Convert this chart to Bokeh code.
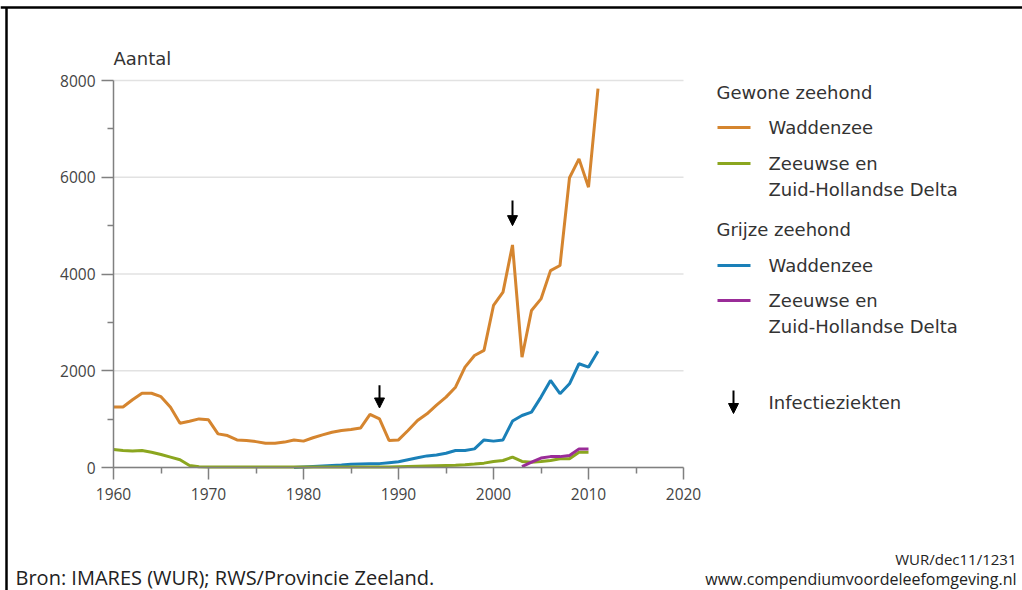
from bokeh.plotting import figure
from bokeh.models import Range1d, Arrow, NormalHead, LinearAxis, FixedTicker
from bokeh.core.properties import value
from bokeh.embed import file_html
from bokeh.resources import INLINE

# ---- data ----
years_gw = list(range(1960, 2012))
gewone_wadden = [1250, 1250, 1400, 1535, 1535, 1465, 1245, 915, 955, 1005,
                 985, 695, 660, 570, 560, 535, 500, 500, 525, 570,
                 545, 615, 675, 730, 765, 785, 815, 1100, 1005, 560,
                 570, 765, 970, 1110, 1290, 1455, 1660, 2075, 2315, 2420,
                 3350, 3625, 4600, 2280, 3245, 3485, 4070, 4175, 5990, 6380,
                 5795, 7830]

years_gd = list(range(1960, 2011))
gewone_delta = [370, 350, 340, 350, 315, 270, 215, 160, 40, 15,
                10, 10, 10, 10, 10, 10, 10, 10, 10, 10,
                10, 10, 10, 10, 10, 10, 10, 10, 10, 10,
                15, 20, 25, 30, 35, 40, 45, 55, 70, 90,
                125, 145, 215, 125, 110, 125, 145, 180, 180, 315,
                315]

years_gr = list(range(1979, 2012))
grijze_wadden = [0, 10, 20, 30, 40, 50, 65, 70, 75, 80,
                 100, 120, 160, 200, 240, 260, 295, 350, 350, 385,
                 570, 545, 570, 960, 1075, 1145, 1455, 1800, 1525, 1730,
                 2145, 2075, 2405]

years_gdl = list(range(2003, 2011))
grijze_delta = [20, 110, 195, 225, 225, 250, 385, 385]

infection_years = [1988, 2002]
arrow_tail = [1700, 5520]
arrow_tip = [1230, 5000]

x_ticks = [1960, 1970, 1980, 1990, 2000, 2010, 2020]
x_minor = [1965, 1975, 1985, 1995, 2005, 2015]
y_ticks = [0, 2000, 4000, 6000, 8000]
y_minor = [1000, 3000, 5000, 7000]

C_ORANGE = "#d5852f"
C_GREEN = "#8ba61f"
C_BLUE = "#1a80b8"
C_PURPLE = "#9a2c98"
TXT = "#333333"
FONT = "Open Sans"
LFONT = "DejaVu Sans"

# ---- layout (page pixels) ----
W, H = 1022, 590
FL, FR, FT, FB = 113, 683, 80, 467          # plot area edges
X0, X1, Y0, Y1 = x_ticks[0], x_ticks[-1], y_ticks[0], y_ticks[-1]
PX = (FR - FL) / (X1 - X0)                   # px per year
PY = (FB - FT) / (Y1 - Y0)                   # px per seal
XS = X0 - FL / PX
XE = XS + W / PX
YE = Y1 + FT / PY
YS = YE - H / PY

def dx(px):
    return XS + px / PX

def dy(py):
    return YE - py / PY

p = figure(width=W, height=H, output_backend="svg", toolbar_location=None,
           x_range=Range1d(XS, XE), y_range=Range1d(YS, YE),
           x_axis_type=None, y_axis_type=None,
           min_border=0, min_border_left=0, min_border_right=0,
           min_border_top=0, min_border_bottom=0)
p.outline_line_color = None
p.background_fill_color = "white"
p.border_fill_color = "white"
p.grid.visible = False

xaxis = LinearAxis(fixed_location=Y0, bounds=(X0, X1),
                   ticker=FixedTicker(ticks=x_ticks, minor_ticks=x_minor))
yaxis = LinearAxis(fixed_location=X0, bounds=(Y0, Y1),
                   ticker=FixedTicker(ticks=y_ticks, minor_ticks=y_minor))
for ax in (xaxis, yaxis):
    ax.axis_line_color = "#808080"
    ax.axis_line_width = 1.5
    ax.major_tick_line_color = "#808080"
    ax.major_tick_line_width = 1.5
    ax.minor_tick_line_color = "#808080"
    ax.minor_tick_line_width = 1.5
    ax.major_tick_in = 0
    ax.minor_tick_in = 0
    ax.major_tick_out = 12
    ax.minor_tick_out = 6
    ax.major_label_text_font = FONT
    ax.major_label_text_font_size = "15.5px"
    ax.major_label_text_color = "#444444"
xaxis.major_label_standoff = 8
yaxis.major_label_standoff = 6

# horizontal grid lines at the major y ticks
p.segment(x0=[X0] * len(y_ticks), x1=[X1] * len(y_ticks), y0=y_ticks, y1=y_ticks,
          line_color="#e2e2e2", line_width=1.5)

p.add_layout(xaxis, "below")
p.add_layout(yaxis, "left")

LW = 3
p.line(years_gr, grijze_wadden, line_color=C_BLUE, line_width=LW)
p.line(years_gd, gewone_delta, line_color=C_GREEN, line_width=LW)
p.line(years_gdl, grijze_delta, line_color=C_PURPLE, line_width=LW)
p.line(years_gw, gewone_wadden, line_color=C_ORANGE, line_width=LW)

def head():
    return NormalHead(size=10, fill_color="black", line_color="black", line_width=1)

for yr, t0, t1 in zip(infection_years, arrow_tail, arrow_tip):
    p.add_layout(Arrow(x_start=yr, y_start=t0, x_end=yr, y_end=t1,
                       line_color="black", line_width=2, end=head()))

def lab(x, y, text, size="18px", color=TXT, align="left", font=LFONT):
    p.text(x=[dx(x)], y=[dy(y)], text=[text], text_font=value(font),
           text_font_size=size, text_color=color, text_align=align,
           text_baseline="middle")

def seg(x0, y0, x1, y1, color, width):
    p.segment(x0=[dx(x0)], y0=[dy(y0)], x1=[dx(x1)], y1=[dy(y1)],
              line_color=color, line_width=width)

lab(113, 58, "Aantal", "18px")
lab(716, 92, "Gewone zeehond")
seg(717, 127, 750, 127, C_ORANGE, 3)
lab(768, 127, "Waddenzee")
seg(717, 163, 750, 163, C_GREEN, 3)
lab(768, 163, "Zeeuwse en")
lab(768, 189, "Zuid-Hollandse Delta")
lab(716, 229, "Grijze zeehond")
seg(717, 265, 750, 265, C_BLUE, 3)
lab(768, 265, "Waddenzee")
seg(717, 300, 750, 300, C_PURPLE, 3)
lab(768, 300, "Zeeuwse en")
lab(768, 326, "Zuid-Hollandse Delta")
p.add_layout(Arrow(x_start=dx(733), y_start=dy(390), x_end=dx(733), y_end=dy(413),
                   line_color="black", line_width=2, end=head()))
lab(768, 402, "Infectieziekten")

lab(15, 577, "Bron: IMARES (WUR); RWS/Provincie Zeeland.", "20px", "#222222", font=FONT)
lab(1016, 558, "WUR/dec11/1231", "15px", "#222222", align="right", font=FONT)
lab(1016, 578, "www.compendiumvoordeleefomgeving.nl", "16px", "#222222", align="right", font=FONT)

# picture border (top & left)
seg(0, 7, W, 7, "black", 2.5)
seg(6, 7, 6, H, "black", 2.5)

open("out.html", "w").write(file_html(p, INLINE))
